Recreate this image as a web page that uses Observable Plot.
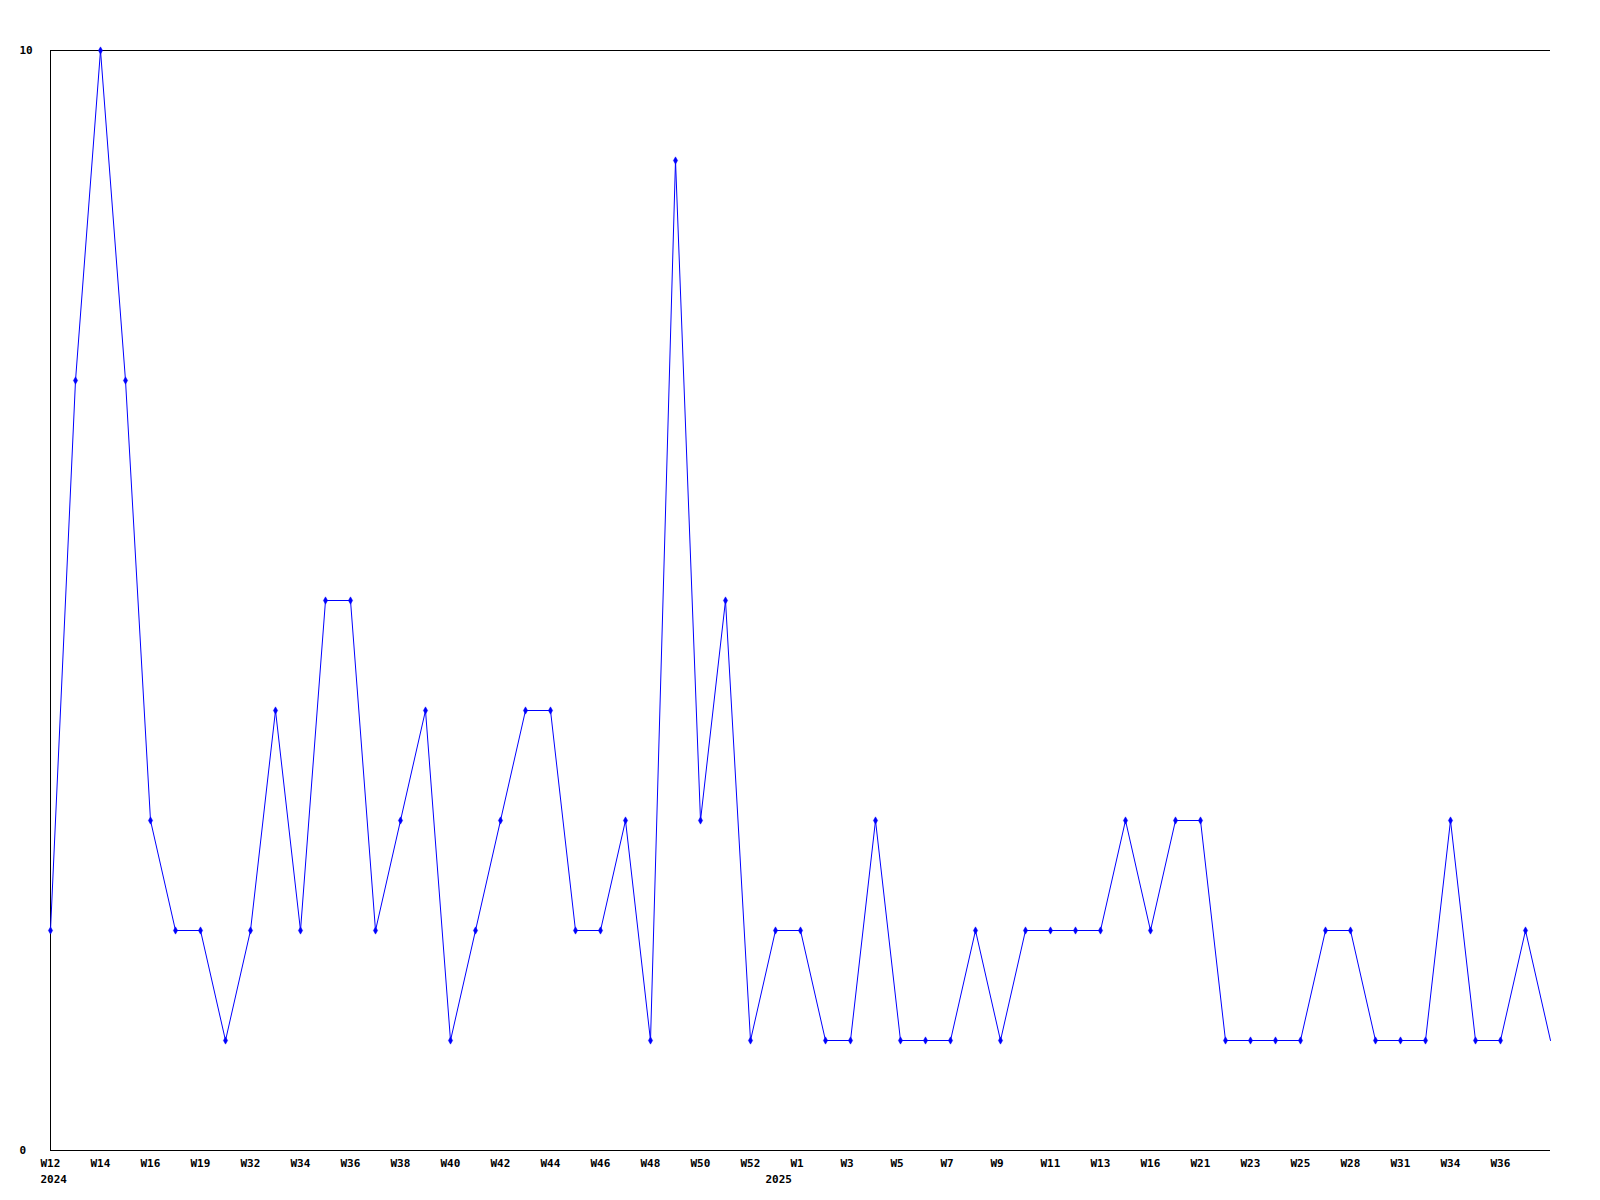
<!DOCTYPE html>
<html>
<head>
<meta charset="utf-8">
<script src="https://cdn.jsdelivr.net/npm/d3@7"></script>
<script src="https://cdn.jsdelivr.net/npm/@observablehq/plot@0.6"></script>
<style>
  html, body { margin: 0; padding: 0; background: #fff; }
  #chart svg { display: block; }
</style>
</head>
<body>
<div id="chart"></div>
<script>
// ---- data ----
const weeks = ["W12","W13","W14","W15","W16","W17","W19","W20","W32","W33",
               "W34","W35","W36","W37","W38","W39","W40","W41","W42","W43",
               "W44","W45","W46","W47","W48","W49","W50","W51","W52","W0",
               "W1","W2","W3","W4","W5","W6","W7","W8","W9","W10",
               "W11","W12","W13","W14","W16","W17","W21","W22","W23","W24",
               "W25","W26","W28","W29","W31","W32","W34","W35","W36","W37","W38"];
const years = [2024,2024,2024,2024,2024,2024,2024,2024,2024,2024,
               2024,2024,2024,2024,2024,2024,2024,2024,2024,2024,
               2024,2024,2024,2024,2024,2024,2024,2024,2024,2025,
               2025,2025,2025,2025,2025,2025,2025,2025,2025,2025,
               2025,2025,2025,2025,2025,2025,2025,2025,2025,2025,
               2025,2025,2025,2025,2025,2025,2025,2025,2025,2025,2025];
const counts = [2,7,10,7,3,2,2,1,2,4,
                2,5,5,2,3,4,1,2,3,4,
                4,2,2,3,1,9,3,5,1,2,
                2,1,1,3,1,1,1,2,1,2,
                2,2,2,3,2,3,3,1,1,1,
                1,2,2,1,1,1,3,1,1,2,1];
const yTicks = [0, 10];

// ---- derived table ----
const rows = counts.map((v, i) => ({key: `${years[i]}-${weeks[i]}-${i}`, i, week: weeks[i], year: years[i], value: v}));
const domain = rows.map(d => d.key);
const last = rows.length - 1;
const yearStarts = rows.filter((d, i) => i === 0 || d.year !== rows[i - 1].year);
const markerRows = rows.slice(0, last);
const labelOf = new Map(rows.map(d => [d.key, (d.i % 2 === 0 && d.i !== last) ? d.week : ""]));

const font = "DejaVu Sans Mono, monospace";
const blue = "#0000ff";

const chart = Plot.plot({
  width: 1600,
  height: 1200,
  marginLeft: 50,
  marginRight: 50,
  marginTop: 50,
  marginBottom: 50,
  style: {fontFamily: font, fontSize: "11px", fontWeight: "bold", background: "#fff", color: "#000"},
  x: {type: "point", domain, padding: 0, axis: null, label: null},
  y: {domain: [0, 10], axis: null, label: null},
  marks: [
    Plot.ruleY([0, 10], {stroke: "#000", strokeWidth: 1, shapeRendering: "crispEdges"}),
    Plot.ruleX([domain[0]], {y1: 0, y2: 10, stroke: "#000", strokeWidth: 1, shapeRendering: "crispEdges"}),
    Plot.axisX({
      tickSize: 0,
      tickPadding: 9,
      label: null,
      tickFormat: k => labelOf.get(k),
      textAnchor: "start",
      dx: -10,
      fontWeight: "bold",
      fontSize: 11,
      fill: "#000"
    }),
    Plot.text(yearStarts, {
      x: "key",
      text: d => String(d.year),
      frameAnchor: "bottom",
      textAnchor: "start",
      lineAnchor: "top",
      dx: -10,
      dy: 25,
      fill: "#000",
      fontWeight: "bold",
      fontSize: 11
    }),
    Plot.text(yTicks, {
      y: d => d,
      text: d => String(d),
      frameAnchor: "left",
      textAnchor: "start",
      dx: -31,
      fill: "#000",
      fontWeight: "bold",
      fontSize: 11
    }),
    Plot.line(rows, {x: "key", y: "value", stroke: blue, strokeWidth: 1}),
    Plot.dot(markerRows, {x: "key", y: "value", symbol: "diamond", r: 2.2, fill: blue, stroke: blue, strokeWidth: 0.5})
  ]
});

document.getElementById("chart").appendChild(chart);
</script>
</body>
</html>
